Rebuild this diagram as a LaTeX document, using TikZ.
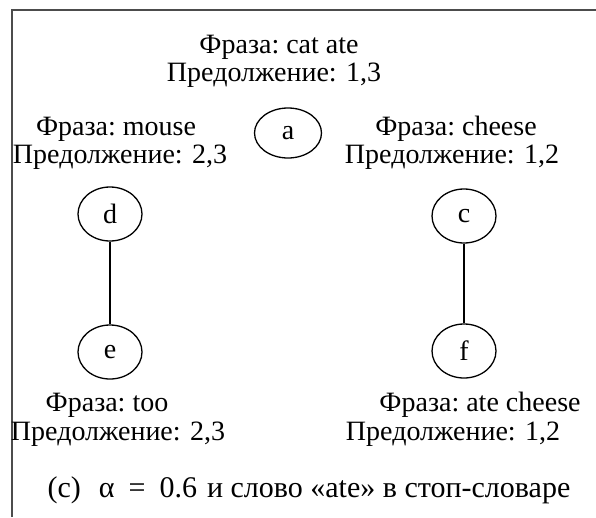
\documentclass[tikz,border=0pt]{standalone}
\usepackage{fontspec}
\setmainfont{Liberation Serif}
\usetikzlibrary{shapes.geometric}
\begin{document}
\begin{tikzpicture}[x=1pt, y=-1pt,
    vertex/.style={draw=black, line width=1.3pt, ellipse, minimum width=64pt, minimum height=54pt, inner sep=0pt, font=\fontsize{28}{32}\selectfont},
    txt/.style={inner sep=0pt, text height=2.2ex, text depth=0.6ex, font=\fontsize{28}{32}\selectfont},
    link/.style={draw=black, line width=1.8pt}]
    \useasboundingbox (0,0) rectangle (596,517);
    \draw[line width=2pt, black!70] (12,517) -- (12,10) -- (596,10);
    \node[txt] (phraseA) at (279,50) {Фраза:\ cat ate};
    \node[txt] (sentA) at (274,78) {Предолжение: 1,3};
    \node[vertex, minimum width=67pt, minimum height=50pt] (a) at (288,133) {a};
    \node[txt] (phraseD) at (116,132) {Фраза:\ mouse};
    \node[txt] (sentD) at (120,160) {Предолжение: 2,3};
    \node[txt] (phraseC) at (456,132) {Фраза:\ cheese};
    \node[txt] (sentC) at (452,160) {Предолжение: 1,2};
    \node[vertex] (d) at (110,214) {d};
    \node[vertex] (c) at (464,216) {c};
    \node[vertex] (e) at (110,352) {e};
    \node[vertex] (f) at (464,351) {f};
    \draw[link] (d) -- (e);
    \draw[link] (c) -- (f);
    \node[txt] (phraseE) at (107,408) {Фраза:\ too};
    \node[txt] (sentE) at (118,437) {Предолжение: 2,3};
    \node[txt] (phraseF) at (480,408) {Фраза:\ ate cheese};
    \node[txt] (sentF) at (453,437) {Предолжение: 1,2};
    \node[txt, font=\fontsize{30}{34}\selectfont] (caption) at (309,494) {(c)\hspace{18pt}α\hspace{14pt}=\hspace{14pt}0.6\hspace{10pt}и слово «ate» в стоп-словаре};
\end{tikzpicture}
\end{document}
